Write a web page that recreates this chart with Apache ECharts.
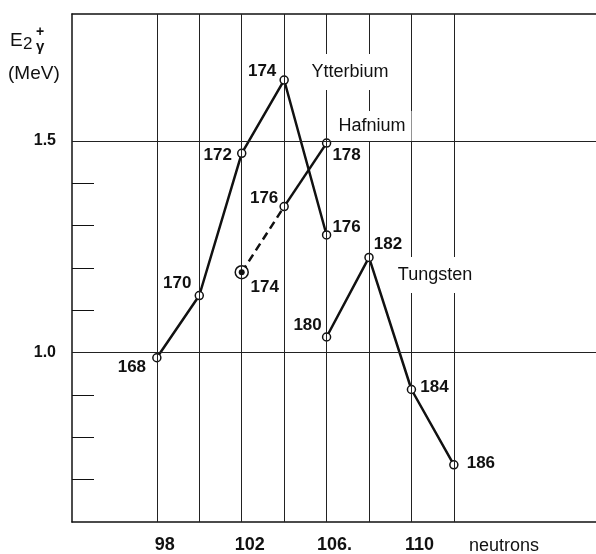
<!DOCTYPE html>
<html>
<head>
<meta charset="utf-8">
<script src="https://cdn.jsdelivr.net/npm/echarts@6/dist/echarts.min.js"></script>
<style>html,body{margin:0;padding:0;background:#fff}#c{width:596px;height:554px}</style>
</head>
<body>
<div id="c"></div>
<script>
// ---- data ----
const neutronsYb = [98, 100, 102, 104, 106];
const energyYb   = [0.988, 1.135, 1.471, 1.644, 1.278];
const isotopesYb = ['168', '170', '172', '174', '176'];

const neutronsHf = [102, 104, 106];
const energyHf   = [1.19, 1.345, 1.495];
const isotopesHf = ['174', '176', '178'];

const neutronsW = [106, 108, 110, 112];
const energyW   = [1.037, 1.225, 0.913, 0.735];
const isotopesW = ['180', '182', '184', '186'];

const gridX = [98, 100, 102, 104, 106, 108, 110, 112];
const gridY = [1.0, 1.5];
const xTickValues = [98, 102, 106, 110];
const xTickLabels = ['98', '102', '106.', '110'];
const yTickValues = [0.7, 0.8, 0.9, 1.1, 1.2, 1.3, 1.4];
const yLabelValues = [1.0, 1.5];

// ---- styling / label offsets (not data) ----
const offYb = [[-25, 10], [-22, -12], [-24, 2], [-22, -9], [20, -8]];
const offHf = [[23, 15], [-20, -8], [20, 12]];
const offW  = [[-19, -12], [19, -13], [23, -2], [27, -2]];

const INK = '#111';
const FONT = '"Liberation Sans", Arial, Helvetica, sans-serif';
const labelStyle = {
  show: true, position: 'inside', color: INK, fontFamily: FONT,
  fontWeight: 'bold', fontSize: 17, align: 'center', verticalAlign: 'middle'
};
function pts(xs, ys, labels, offs, from, to) {
  const out = [];
  for (let i = from; i < to; i++) {
    const item = { value: [xs[i], ys[i]] };
    if (labels) item.label = Object.assign({}, labelStyle, { formatter: labels[i], offset: offs[i] });
    out.push(item);
  }
  return out;
}
const lineBase = {
  type: 'line', symbol: 'circle', symbolSize: 8, z: 3,
  lineStyle: { color: INK, width: 2.5 },
  itemStyle: { color: '#fff', borderColor: INK, borderWidth: 1.5, opacity: 1 },
  emphasis: { disabled: true }, animation: false
};

const chart = echarts.init(document.getElementById('c'));
chart.setOption({
  animation: false,
  grid: { left: 72, right: 0, top: 14, bottom: 32, show: false },
  xAxis: [{
    type: 'value', min: 94, max: 118.7, interval: 2,
    splitLine: { show: false },
    axisLine: { show: true, lineStyle: { color: INK, width: 1.5 } },
    axisTick: { show: false },
    axisLabel: {
      customValues: xTickValues,
      formatter: v => xTickLabels[xTickValues.indexOf(v)] || '',
      color: INK, fontFamily: FONT, fontWeight: 'bold', fontSize: 18,
      margin: 14, padding: [0, 0, 0, 16]
    }
  }, {
    type: 'value', position: 'top', min: 94, max: 118.7,
    splitLine: { show: false }, axisTick: { show: false }, axisLabel: { show: false },
    axisLine: { show: true, lineStyle: { color: INK, width: 1.5 } }
  }],
  yAxis: {
    type: 'value', min: 0.6, max: 1.8, interval: 0.1,
    splitLine: { show: false },
    axisLine: { show: true, lineStyle: { color: INK, width: 1.5 } },
    axisTick: { show: true, inside: true, length: 22, customValues: yTickValues, lineStyle: { color: INK, width: 1 } },
    axisLabel: {
      customValues: yLabelValues,
      formatter: v => v.toFixed(1),
      color: INK, fontFamily: FONT, fontWeight: 'bold', fontSize: 16, margin: 16
    }
  },
  series: [
    {
      type: 'line', data: [], z: 1, silent: true,
      markLine: {
        silent: true, symbol: 'none', animation: false,
        label: { show: false },
        lineStyle: { color: '#222', width: 1, type: 'solid' },
        data: gridX.map(v => ({ xAxis: v })).concat(gridY.map(v => ({ yAxis: v })))
      }
    },
    Object.assign({}, lineBase, {
      name: 'Ytterbium',
      data: pts(neutronsYb, energyYb, isotopesYb, offYb, 0, neutronsYb.length)
    }),
    Object.assign({}, lineBase, {
      name: 'Hafnium dashed', showSymbol: false, symbol: 'none',
      lineStyle: { color: INK, width: 2.5, type: [8, 5] },
      data: pts(neutronsHf, energyHf, null, null, 0, 2)
    }),
    Object.assign({}, lineBase, {
      name: 'Hafnium',
      data: pts(neutronsHf, energyHf, isotopesHf, offHf, 1, neutronsHf.length)
    }),
    {
      type: 'scatter', z: 4, symbol: 'circle', symbolSize: 13,
      itemStyle: { color: '#fff', borderColor: INK, borderWidth: 1.5, opacity: 1 },
      emphasis: { disabled: true },
      data: pts(neutronsHf, energyHf, isotopesHf, offHf, 0, 1)
    },
    {
      type: 'scatter', z: 5, symbol: 'circle', symbolSize: 6,
      itemStyle: { color: INK, opacity: 1 },
      emphasis: { disabled: true },
      data: pts(neutronsHf, energyHf, null, null, 0, 1)
    },
    Object.assign({}, lineBase, {
      name: 'Tungsten',
      data: pts(neutronsW, energyW, isotopesW, offW, 0, neutronsW.length)
    })
  ],
  graphic: [
    { type: 'text', z: 10, style: { text: 'E', x: 10, y: 41, font: '19px ' + FONT, fill: INK, verticalAlign: 'middle' } },
    { type: 'text', z: 10, style: { text: '2', x: 23, y: 44, font: '17px ' + FONT, fill: INK, verticalAlign: 'middle' } },
    { type: 'text', z: 10, style: { text: '+', x: 36, y: 32, font: 'bold 14px ' + FONT, fill: INK, verticalAlign: 'middle' } },
    { type: 'text', z: 10, style: { text: 'γ', x: 36, y: 47, font: 'bold 15px ' + FONT, fill: INK, verticalAlign: 'middle' } },
    { type: 'text', z: 10, style: { text: '(MeV)', x: 8, y: 74, font: '19px ' + FONT, fill: INK, verticalAlign: 'middle' } },
    { type: 'text', z: 10, style: { text: 'neutrons', x: 469, y: 546, font: '18px ' + FONT, fill: INK, verticalAlign: 'middle' } },
    { type: 'text', z: 10, style: { text: 'Ytterbium', x: 350, y: 72, font: '18px ' + FONT, fill: INK, align: 'center', verticalAlign: 'middle', backgroundColor: '#fff', padding: [9, 6] } },
    { type: 'text', z: 10, style: { text: 'Hafnium', x: 372, y: 126, font: '18px ' + FONT, fill: INK, align: 'center', verticalAlign: 'middle', backgroundColor: '#fff', padding: [6, 6] } },
    { type: 'text', z: 10, style: { text: 'Tungsten', x: 435, y: 275, font: '18px ' + FONT, fill: INK, align: 'center', verticalAlign: 'middle', backgroundColor: '#fff', padding: [9, 6] } }
  ]
});
</script>
</body>
</html>
